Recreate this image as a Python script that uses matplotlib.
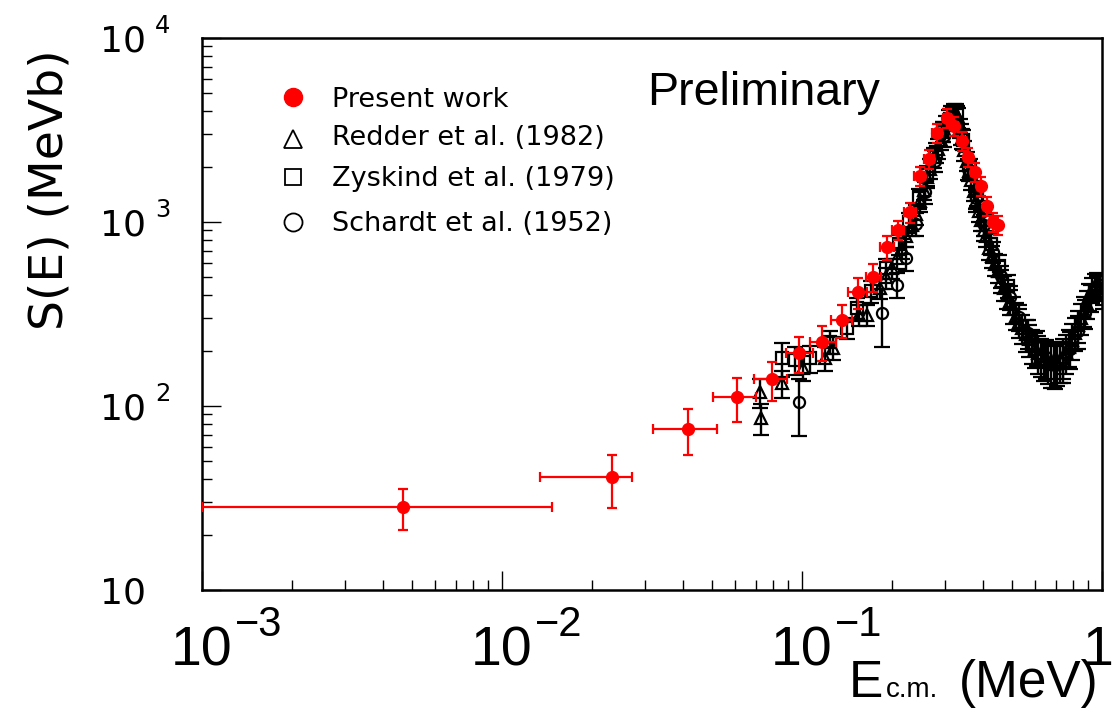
import matplotlib
matplotlib.use('Agg')
import matplotlib.pyplot as plt
import matplotlib.ticker as mt
import matplotlib.transforms as mtr

# Present work (red), energy bins and statistical errors
present_E = [0.00467, 0.0233, 0.0417, 0.0607, 0.0794, 0.0977, 0.1166, 0.136, 0.154, 0.1725,
             0.192, 0.209, 0.229, 0.247, 0.265, 0.282, 0.304, 0.321, 0.341, 0.357,
             0.377, 0.395, 0.414, 0.433, 0.450]
present_S = [28.3, 41.1, 75.0, 112, 140, 194, 223, 293, 417, 502,
             731, 906, 1133, 1778, 2198, 3048, 3673, 3327, 2755, 2254,
             1871, 1570, 1222, 1000, 964]
present_dS = [7.2, 13.2, 21, 30, 33, 43, 48, 60, 80, 86,
              106, 110, 140, 215, 265, 365, 440, 400, 330, 270,
              225, 190, 150, 120, 115]
present_dE_lo = [0.00367, 0.0099, 0.0099, 0.0102, 0.0102, 0.0092, 0.0102, 0.011, 0.0116, 0.0096,
                 0.010, 0.010, 0.010, 0.010, 0.010, 0.010, 0.010, 0.010, 0.010, 0.010,
                 0.010, 0.010, 0.010, 0.010, 0.010]
present_dE_hi = [0.01003, 0.0038, 0.0104, 0.0096, 0.0097, 0.0112, 0.0128, 0.011, 0.0108, 0.0103,
                 0.010, 0.010, 0.010, 0.010, 0.010, 0.010, 0.010, 0.010, 0.010, 0.010,
                 0.010, 0.010, 0.010, 0.010, 0.010]

# Redder et al. (1982)
redder_E = [0.0724, 0.0730, 0.0858, 0.1007, 0.119, 0.127, 0.155, 0.165, 0.182, 0.190,
            0.200, 0.207, 0.215, 0.223, 0.232, 0.240, 0.248, 0.255, 0.262, 0.268,
            0.276, 0.283, 0.290, 0.296, 0.303, 0.309, 0.315, 0.320, 0.326, 0.331,
            0.337, 0.342, 0.348, 0.354, 0.360, 0.366, 0.373, 0.380, 0.388, 0.396,
            0.404, 0.410, 0.421, 0.430, 0.440, 0.450, 0.460, 0.470, 0.482, 0.493,
            0.505, 0.517, 0.530, 0.543, 0.556, 0.570, 0.584, 0.598, 0.613, 0.628,
            0.643, 0.659, 0.675, 0.691, 0.708, 0.725, 0.742, 0.760, 0.777, 0.795,
            0.813, 0.832, 0.850, 0.869, 0.888, 0.907, 0.927, 0.946, 0.966, 0.985,
            1.005]
redder_S = [119, 86, 133, 161, 182, 207, 312, 312, 438, 500,
            560, 640, 720, 840, 960, 1100, 1300, 1500, 1750, 1950,
            2250, 2500, 2800, 3100, 3350, 3600, 3800, 3900, 3900, 3700,
            3250, 2850, 2450, 2150, 1900, 1700, 1480, 1300, 1150, 1020,
            900, 840, 720, 650, 590, 540, 480, 440, 400, 370,
            335, 310, 285, 265, 245, 230, 215, 205, 195, 188,
            180, 175, 170, 170, 172, 178, 185, 196, 210, 228,
            250, 275, 300, 330, 360, 395, 430, 450, 460, 440,
            420]
redder_dS = [22, 16, 22, 25, 28, 30, 40, 40, 55, 65,
             70, 82, 90, 105, 120, 140, 165, 190, 220, 245,
             280, 310, 350, 385, 420, 450, 470, 480, 480, 460,
             400, 350, 300, 265, 235, 210, 185, 160, 145, 128,
             115, 110, 95, 88, 80, 75, 70, 66, 62, 58,
             55, 52, 50, 49, 48, 46, 45, 45, 45, 44,
             44, 44, 44, 44, 44, 44, 45, 46, 48, 50,
             52, 55, 58, 60, 62, 65, 68, 70, 70, 68,
             65]

# Zyskind et al. (1979)
zyskind_E = [0.0858, 0.0948, 0.1064, 0.124, 0.141, 0.152, 0.170, 0.190, 0.210, 0.228,
             0.245, 0.262, 0.280, 0.296, 0.312, 0.328, 0.344, 0.362, 0.382, 0.404,
             0.428, 0.455, 0.485]
zyskind_S = [182, 178, 182, 223, 265, 341, 420, 560, 760, 1000,
             1350, 1800, 2400, 3100, 3650, 3800, 2800, 1950, 1400, 1020,
             760, 580, 450]
zyskind_dS = [38, 30, 30, 32, 35, 45, 55, 72, 95, 125,
              170, 225, 300, 390, 450, 470, 350, 245, 175, 130,
              98, 78, 64]

# Schardt et al. (1952)
schardt_E = [0.0977, 0.185, 0.2075, 0.222, 0.240, 0.258, 0.278, 0.298, 0.318, 0.338,
             0.358, 0.380, 0.405, 0.432, 0.462, 0.495, 0.530, 0.568, 0.608, 0.650,
             0.695, 0.740, 0.785, 0.830, 0.875, 0.920, 0.965, 1.01]
schardt_S = [105, 320, 455, 640, 980, 1450, 2150, 2950, 3700, 3000,
             1950, 1350, 960, 690, 510, 390, 305, 250, 210, 185,
             168, 178, 205, 255, 320, 390, 440, 400]
schardt_dS = [36, 110, 70, 95, 140, 200, 290, 390, 480, 390,
              250, 175, 125, 90, 70, 58, 50, 45, 45, 44,
              44, 44, 46, 52, 58, 64, 70, 65]

legend_labels = ['Present work', 'Redder et al. (1982)', 'Zyskind et al. (1979)', 'Schardt et al. (1952)']
y_exponents = [1, 2, 3, 4]
x_exponents = [-3, -2, -1, 0]

fig = plt.figure(figsize=(11.15, 7.08), dpi=100)
ax = fig.add_axes([202 / 1115, 118 / 708, 900 / 1115, 552 / 708])
ax.set_xscale('log')
ax.set_yscale('log')
ax.set_xlim(1e-3, 1)
ax.set_ylim(10, 1e4)

# open black markers for the older measurements
black = dict(color='black', ecolor='black', elinewidth=1.7, capsize=5.5, capthick=1.7,
             mfc='none', mec='black', mew=1.6, ms=8, linestyle='none')
ax.errorbar(redder_E, redder_S, yerr=redder_dS, marker='^', zorder=2, **black)
ax.errorbar(zyskind_E, zyskind_S, yerr=zyskind_dS, marker='s', zorder=2, **black)
ax.errorbar(schardt_E, schardt_S, yerr=schardt_dS, marker='o', zorder=2, **black)
ax.errorbar(present_E, present_S, xerr=[present_dE_lo, present_dE_hi], yerr=present_dS,
            fmt='o', color='red', ecolor='red', ms=8.5, elinewidth=1.6, capsize=3.8,
            capthick=1.6, zorder=5)

for s in ax.spines.values():
    s.set_linewidth(1.8)
ax.xaxis.set_major_locator(mt.LogLocator(base=10, numticks=10))
ax.xaxis.set_minor_locator(mt.LogLocator(base=10, subs=range(2, 10), numticks=50))
ax.yaxis.set_major_locator(mt.LogLocator(base=10, numticks=10))
ax.yaxis.set_minor_locator(mt.LogLocator(base=10, subs=range(2, 10), numticks=50))
ax.xaxis.set_minor_formatter(mt.NullFormatter())
ax.yaxis.set_minor_formatter(mt.NullFormatter())
ax.tick_params(which='both', direction='in', top=False, right=False,
               labelbottom=False, labelleft=False, color='black', width=1.0)
ax.tick_params(which='major', length=14)
ax.tick_params(which='minor', length=7)

# y tick labels: "10" with a raised exponent
ytr = ax.get_yaxis_transform()
for e in y_exponents:
    t = mtr.offset_copy(ytr, fig=fig, x=0, y=-13, units='dots')
    ax.text(-56 / 900, 10.0 ** e, '10', transform=t, ha='right', va='baseline',
            fontsize=26, family='DejaVu Sans')
    if e != 1:
        t2 = mtr.offset_copy(ytr, fig=fig, x=0, y=5, units='dots')
        ax.text(-47 / 900, 10.0 ** e, str(e), transform=t2, ha='left', va='baseline',
                fontsize=17.5, family='DejaVu Sans')

# x tick labels
xtr = ax.get_xaxis_transform()
for e in x_exponents:
    if e == 0:
        t = mtr.offset_copy(xtr, fig=fig, x=-4, y=-75, units='dots')
        ax.text(1.0, 0, '1', transform=t, ha='center', va='baseline',
                fontsize=40, family='Liberation Sans')
        continue
    t = mtr.offset_copy(xtr, fig=fig, x=0, y=-75, units='dots')
    ax.text(10.0 ** e, 0, '10', transform=t, ha='center', va='baseline',
            fontsize=40, family='Liberation Sans')
    t2 = mtr.offset_copy(xtr, fig=fig, x=33, y=-46, units='dots')
    ax.text(10.0 ** e, 0, '\u2212' + str(-e), transform=t2, ha='left', va='baseline',
            fontsize=30, family='Liberation Sans')

# axis titles
tl = mtr.offset_copy(ax.transAxes, fig=fig, x=0, y=-107, units='dots')
ax.text(896 / 900, 0, '(MeV)', transform=tl, ha='right', va='baseline',
        fontsize=37, family='Liberation Sans')
ax.text(736 / 900, 0, 'c.m.', transform=tl, ha='right', va='baseline',
        fontsize=20, family='Liberation Sans')
ax.text(681 / 900, 0, 'E', transform=tl, ha='right', va='baseline',
        fontsize=37, family='Liberation Sans')
ax.text(-152 / 900, (590 - 190) / 552, 'S(E) (MeVb)', transform=ax.transAxes,
        rotation=90, ha='center', va='center', fontsize=34, family='DejaVu Sans')

# legend
lx = (293 - 202) / 900
tx = (332 - 202) / 900
rows = [97, 139, 177, 222]
bases = [107, 145, 186, 231]
styles = [dict(marker='o', mfc='red', mec='red', ms=13),
          dict(marker='^', mfc='white', mec='black', ms=13, mew=1.3),
          dict(marker='s', mfc='white', mec='black', ms=12, mew=1.3),
          dict(marker='o', mfc='white', mec='black', ms=13, mew=1.3)]
for label, ry, by, st in zip(legend_labels, rows, bases, styles):
    ax.plot([lx], [(590 - ry) / 552], transform=ax.transAxes, linestyle='none',
            clip_on=False, zorder=6, **st)
    ax.text(tx, (590 - by) / 552, label, transform=ax.transAxes, ha='left',
            va='baseline', fontsize=19.5, family='DejaVu Sans')

ax.text((647 - 202) / 900, (590 - 105) / 552, 'Preliminary', transform=ax.transAxes,
        ha='left', va='baseline', fontsize=33.5, family='Liberation Sans')

fig.savefig('out.png', dpi=100)
